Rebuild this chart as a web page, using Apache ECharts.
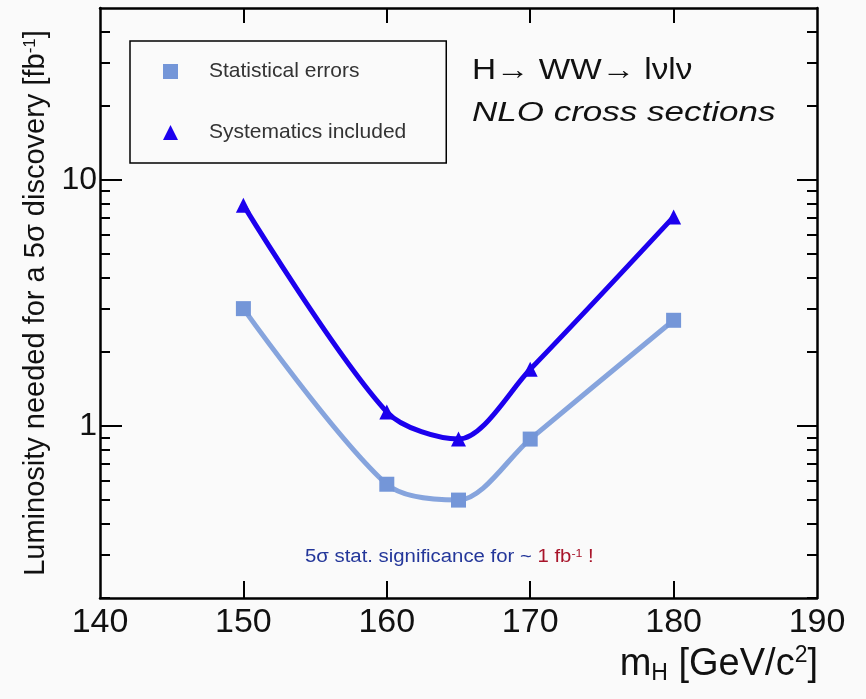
<!DOCTYPE html>
<html>
<head>
<meta charset="utf-8">
<script src="https://cdn.jsdelivr.net/npm/echarts@6/dist/echarts.min.js"></script>
<style>
  html, body { margin: 0; padding: 0; background: #fafafa; }
  #chart { width: 866px; height: 699px; }
</style>
</head>
<body>
<div id="chart"></div>
<script>
// m_H (GeV/c^2) and luminosity needed (fb^-1)
const massPoints = [150, 160, 165, 170, 180]
const statErrors = [3.0, 0.58, 0.50, 0.885, 2.69]
const withSystematics = [7.9, 1.14, 0.885, 1.70, 7.08]

const xTicks = [150, 160, 170, 180]
const xLabels = [140, 150, 160, 170, 180, 190]
const yMajorTicks = [1, 10]
const yMinorTicks = [0.2, 0.3, 0.4, 0.5, 0.6, 0.7, 0.8, 0.9, 2, 3, 4, 5, 6, 7, 8, 9, 20, 30, 40]

const FONT = 'Liberation Sans, Arial, Helvetica, sans-serif'
const STAT_COLOR = '#7496d8'
const SYST_COLOR = '#1c00ee'

const chartDom = document.getElementById('chart')
const myChart = echarts.init(chartDom)

const axisLine = { show: true, lineStyle: { color: '#000', width: 2.5 } }
const tickStyle = { color: '#000', width: 2 }

const yBase = {
    type: 'log',
    logBase: 10,
    min: 0.2,
    max: 50,
    splitLine: { show: false },
    minorTick: { show: false },
}

const option = {
    backgroundColor: '#fafafa',
    textStyle: { fontFamily: FONT },
    grid: { left: 100, right: 49, top: 8, bottom: 101 },
    legend: {
        left: 130,
        top: 41,
        orient: 'vertical',
        itemWidth: 15,
        itemHeight: 15,
        itemGap: 40,
        padding: [20, 40, 20, 33],
        borderColor: '#000',
        borderWidth: 1.5,
        textStyle: { fontSize: 21, color: '#333', fontFamily: FONT, padding: [0, 0, 0, 26] },
        data: [
            { name: 'Statistical errors', icon: 'rect', itemStyle: { color: STAT_COLOR } },
            { name: 'Systematics included', icon: 'triangle', itemStyle: { color: SYST_COLOR } },
        ],
    },
    xAxis: [
        {
            type: 'value',
            position: 'bottom',
            min: 140,
            max: 190,
            interval: 10,
            splitLine: { show: false },
            axisLine: axisLine,
            axisTick: { show: true, inside: true, length: 17, lineStyle: tickStyle, customValues: xTicks },
            axisLabel: { fontSize: 34, color: '#111', margin: 8, fontFamily: FONT, customValues: xLabels },
        },
        {
            type: 'value',
            position: 'top',
            min: 140,
            max: 190,
            interval: 10,
            splitLine: { show: false },
            axisLine: axisLine,
            axisTick: { show: true, inside: true, length: 15, lineStyle: tickStyle, customValues: xTicks },
            axisLabel: { show: false },
        },
    ],
    yAxis: [
        {
            ...yBase,
            position: 'left',
            axisLine: axisLine,
            axisTick: { show: true, inside: true, length: 22, lineStyle: tickStyle, customValues: yMajorTicks },
            axisLabel: { fontSize: 32, color: '#111', margin: 3, fontFamily: FONT, customValues: yMajorTicks },
            name: 'Luminosity needed for a 5σ discovery [fb{sup|-1}]',
            nameLocation: 'middle',
            nameRotate: 90,
            nameGap: 44,
            nameTextStyle: {
                fontSize: 29,
                color: '#111',
                fontFamily: FONT,
                rich: {
                    sup: { fontSize: 17, verticalAlign: 'top', color: '#111', fontFamily: FONT, padding: [0, 0, 12, 0] },
                },
            },
        },
        {
            ...yBase,
            position: 'left',
            axisLine: { show: false },
            axisTick: { show: true, inside: true, length: 10, lineStyle: tickStyle, customValues: yMinorTicks },
            axisLabel: { show: false },
        },
        {
            ...yBase,
            position: 'right',
            axisLine: axisLine,
            axisTick: { show: true, inside: true, length: 20, lineStyle: tickStyle, customValues: yMajorTicks },
            axisLabel: { show: false },
        },
        {
            ...yBase,
            position: 'right',
            axisLine: { show: false },
            axisTick: { show: true, inside: true, length: 10, lineStyle: tickStyle, customValues: yMinorTicks },
            axisLabel: { show: false },
        },
    ],
    graphic: [
        {
            type: 'text',
            left: 472,
            top: 56,
            scaleX: 1.15,
            style: { text: 'H\u2192 WW\u2192 l\u03bdl\u03bd', fontSize: 29, fontFamily: FONT, fill: '#111' },
        },
        {
            type: 'text',
            left: 472,
            top: 99,
            scaleX: 1.25,
            style: { text: 'NLO cross sections', fontSize: 28, fontStyle: 'italic', fontFamily: FONT, fill: '#111' },
        },
        {
            type: 'text',
            left: 305,
            top: 548,
            scaleX: 1.13,
            style: {
                text: '{b|5σ stat. significance for ~ }{r|1 fb}{rs|-1}{r| !}',
                rich: {
                    b: { fontSize: 18, fill: '#24379a', fontFamily: FONT },
                    r: { fontSize: 18, fill: '#a8142a', fontFamily: FONT },
                    rs: { fontSize: 11, fill: '#a8142a', fontFamily: FONT, verticalAlign: 'top', padding: [0, 0, 6, 0] },
                },
            },
        },
        {
            type: 'text',
            right: 48,
            top: 644,
            style: {
                text: '{m|m}{s|H}{m| [GeV/c}{p|2}{m|]}',
                rich: {
                    m: { fontSize: 38, fill: '#111', fontFamily: FONT },
                    s: { fontSize: 23, fill: '#111', fontFamily: FONT, verticalAlign: 'bottom', padding: [18, 0, 0, 0] },
                    p: { fontSize: 23, fill: '#111', fontFamily: FONT, verticalAlign: 'top', padding: [0, 0, 16, 0] },
                },
            },
        },
    ],
    series: [
        {
            name: 'Statistical errors',
            type: 'line',
            xAxisIndex: 0,
            yAxisIndex: 0,
            smooth: 0.3,
            symbol: 'rect',
            symbolSize: 15,
            lineStyle: { color: '#86a4dd', width: 5 },
            itemStyle: { color: STAT_COLOR },
            data: massPoints.map((m, i) => [m, statErrors[i]]),
            z: 3,
        },
        {
            name: 'Systematics included',
            type: 'line',
            xAxisIndex: 0,
            yAxisIndex: 0,
            smooth: 0.3,
            symbol: 'triangle',
            symbolSize: 15,
            lineStyle: { color: SYST_COLOR, width: 5 },
            itemStyle: { color: SYST_COLOR },
            data: massPoints.map((m, i) => [m, withSystematics[i]]),
            z: 4,
        },
    ],
}

option && myChart.setOption(option)
</script>
</body>
</html>
